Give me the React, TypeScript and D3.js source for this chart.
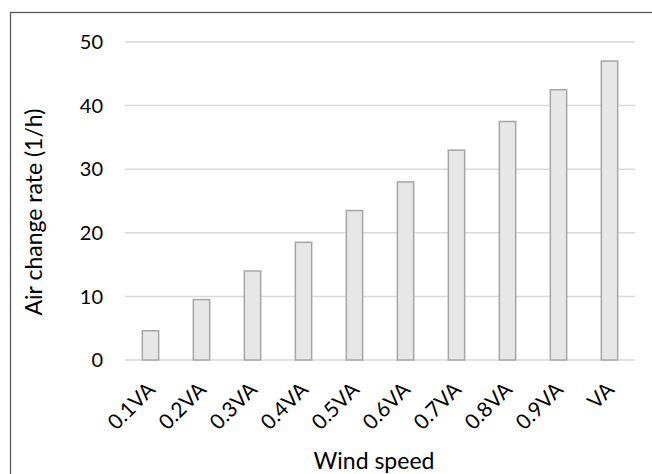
import React from "react";
import * as d3 from "d3";

const categories = ["0.1VA", "0.2VA", "0.3VA", "0.4VA", "0.5VA", "0.6VA", "0.7VA", "0.8VA", "0.9VA", "VA"];
const values = [4.6, 9.5, 14, 18.5, 23.5, 28, 33, 37.5, 42.5, 47];
const yTicks = [0, 10, 20, 30, 40, 50];
const xTitle = "Wind speed";
const yTitle = "Air change rate (1/h)";

const W = 652;
const H = 474;
const plot = { left: 125, right: 635, top: 42, bottom: 360 };
const font = "Lato, 'Open Sans', sans-serif";

export default function App() {
  const x = d3.scaleBand<string>().domain(categories).range([plot.left, plot.right]).paddingInner(0.68).paddingOuter(0.34);
  const y = d3.scaleLinear().domain([0, 50]).range([plot.bottom, plot.top]);
  return (
    <svg width={W} height={H} style={{ position: "absolute", left: 0, top: 0, background: "#fff" }}>
      <rect x={10.5} y={12.5} width={W + 10} height={H + 10} fill="#fff" stroke="#595959" strokeWidth={1.3} />
      {yTicks.map((t) => (
        <g key={t}>
          <line x1={plot.left} x2={plot.right} y1={y(t)} y2={y(t)} stroke="#d9d9d9" strokeWidth={1.5} />
          <text x={103} y={y(t)} dy="0.36em" textAnchor="end" fontFamily={font} fontSize={20} fill="#000">{t}</text>
        </g>
      ))}
      {categories.map((c, i) => (
        <rect key={c} x={x(c)} y={y(values[i])} width={x.bandwidth()} height={y(0) - y(values[i])} fill="#e7e7e7" stroke="#a5a5a5" strokeWidth={1.5} />
      ))}
      {categories.map((c) => {
        const cx = (x(c) as number) + x.bandwidth() / 2;
        return (
          <text key={c} transform={`translate(${cx + 6},${391}) rotate(-45)`} textAnchor="end" fontFamily={font} fontSize={21} fill="#000">{c}</text>
        );
      })}
      <text x={374} y={469} textAnchor="middle" fontFamily={font} fontSize={23} fill="#000">{xTitle}</text>
      <text transform={`translate(42,212) rotate(-90)`} textAnchor="middle" fontFamily={font} fontSize={23} fill="#000">{yTitle}</text>
    </svg>
  );
}
